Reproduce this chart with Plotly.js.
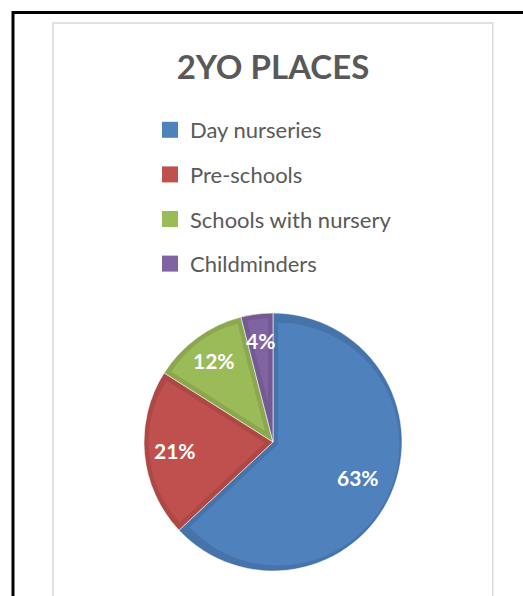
<!DOCTYPE html>
<html>
<head>
<meta charset="utf-8">
<script src="https://cdn.plot.ly/plotly-3.0.1.min.js"></script>
<style>
  html, body { margin: 0; padding: 0; background: #ffffff; }
  #chart { width: 523px; height: 596px; }
</style>
</head>
<body>
<div id="chart"></div>
<script>
// ---- data ----
const categories = ['Day nurseries', 'Pre-schools', 'Schools with nursery', 'Childminders'];
const values = [63, 21, 12, 4];
const chartTitle = '2YO PLACES';

// ---- styles ----
const lightColors = ['#4F81BD', '#C0504D', '#9BBB59', '#8064A2'];
const darkColors  = ['#4673AA', '#AD4845', '#8BA84F', '#735A92'];
const FONT = 'Lato, "Open Sans", sans-serif';
const TEXT_GREY = '#595959';

// ---- geometry (layout) ----
const W = 523, H = 596;
const CX = 273, CY = 442, R = 129, BAND = 5;

function domainFor(radius, maxPull) {
  const s = radius * (1 + maxPull);
  return { x: [(CX - s) / W, (CX + s) / W], y: [1 - (CY + s) / H, 1 - (CY - s) / H] };
}

const total = values.reduce((a, b) => a + b, 0);
const transparent = 'rgba(0,0,0,0)';

const common = {
  type: 'pie', labels: categories, values: values, sort: false,
  direction: 'clockwise', rotation: 0, showlegend: false
};

const traces = [];

// base (rim colour) pie
traces.push(Object.assign({}, common, {
  domain: domainFor(R, 0),
  marker: { colors: darkColors, line: { color: 'rgba(255,255,255,0.55)', width: 1 } },
  textinfo: 'none', hoverinfo: 'skip'
}));

// inset (lighter) slices, one per category, pushed inward to leave a darker rim
categories.forEach((c, i) => {
  const half = Math.PI * values[i] / total;          // half the slice angle
  const d = BAND / Math.sin(half);                     // apex offset of the inset wedge
  const meanCos = Math.sin(half) / half;
  const r = R - BAND - d * meanCos;
  const p = d / r;
  traces.push(Object.assign({}, common, {
    domain: domainFor(r, p),
    pull: categories.map((_, j) => j === i ? p : 0),
    marker: { colors: categories.map((_, j) => j === i ? lightColors[i] : transparent), line: { width: 0 } },
    textinfo: 'none', hoverinfo: 'skip'
  }));
});

// transparent pie on top for hover
traces.push(Object.assign({}, common, {
  domain: domainFor(R, 0),
  marker: { colors: categories.map(() => transparent), line: { width: 0 } },
  textinfo: 'none',
  hovertemplate: '%{label}: %{percent}<extra></extra>'
}));

// legend entries
categories.forEach((c, i) => {
  traces.push({
    type: 'scatter', x: [null], y: [null], mode: 'markers', name: c,
    legendgroup: 'g' + i, hoverinfo: 'skip',
    marker: { symbol: 'square', size: 16, color: lightColors[i] }
  });
});

// percentage labels placed on each slice's bisector (smaller slices sit a bit further out)
const annotations = [];
let cum = 0;
values.forEach((v, i) => {
  const share = v / total;
  const phi = 2 * Math.PI * (cum + v / 2) / total;
  cum += v;
  const k = 0.79 - 0.12 * share;
  const px = CX + k * R * Math.sin(phi);
  const py = CY - k * R * Math.cos(phi);
  annotations.push({
    xref: 'paper', yref: 'paper', x: px / W, y: 1 - py / H,
    xanchor: 'center', yanchor: 'middle', showarrow: false, yshift: 1,
    text: Math.round(100 * share) + '%',
    font: { family: FONT, size: 21, color: '#ffffff', weight: 700 }
  });
});

const layout = {
  width: W, height: H,
  margin: { l: 0, r: 0, t: 0, b: 0 },
  paper_bgcolor: '#ffffff', plot_bgcolor: 'rgba(0,0,0,0)',
  font: { family: FONT, color: TEXT_GREY },
  title: {
    text: chartTitle,
    font: { family: FONT, size: 33, color: TEXT_GREY, weight: 700 },
    x: 273 / W, xanchor: 'center', xref: 'container',
    y: 1 - 67 / H, yanchor: 'middle', yref: 'container'
  },
  xaxis: { visible: false, fixedrange: true },
  yaxis: { visible: false, fixedrange: true },
  showlegend: true,
  legend: {
    x: 150 / W, xanchor: 'left', y: 1 - 109 / H, yanchor: 'top',
    font: { family: FONT, size: 22, color: TEXT_GREY },
    tracegroupgap: 13, traceorder: 'grouped', bgcolor: 'rgba(0,0,0,0)'
  },
  annotations: annotations,
  shapes: [
    { type: 'rect', xref: 'paper', yref: 'paper', x0: 13 / W, x1: 540 / W, y0: 1 - 620 / H, y1: 1 - 12.5 / H,
      line: { color: '#000000', width: 3 }, fillcolor: 'rgba(0,0,0,0)', layer: 'below' },
    { type: 'rect', xref: 'paper', yref: 'paper', x0: 53 / W, x1: 492.7 / W, y0: 1 - 620 / H, y1: 1 - 23 / H,
      line: { color: '#D9D9D9', width: 1.5 }, fillcolor: 'rgba(0,0,0,0)', layer: 'below' }
  ]
};

Plotly.newPlot('chart', traces, layout, { displayModeBar: false });
</script>
</body>
</html>
